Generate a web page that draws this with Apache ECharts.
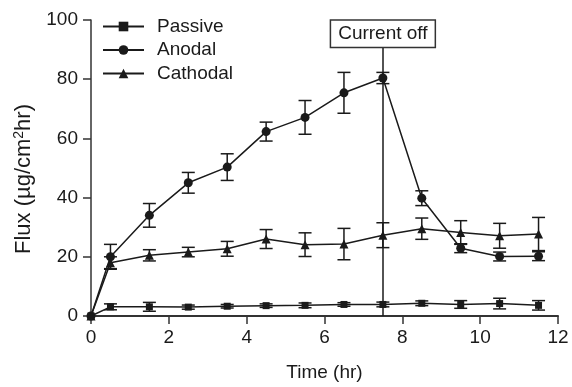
<!DOCTYPE html>
<html>
<head>
<meta charset="utf-8">
<script src="https://cdn.jsdelivr.net/npm/echarts@6/dist/echarts.min.js"></script>
<style>
  html, body { margin: 0; padding: 0; background: #fff; }
  #chart { width: 572px; height: 387px; }
</style>
</head>
<body>
<div id="chart"></div>
<script>
// Sampling times (hr)
const times = [0, 0.5, 1.5, 2.5, 3.5, 4.5, 5.5, 6.5, 7.5, 8.5, 9.5, 10.5, 11.5];

// Mean flux (µg/cm²hr) and standard deviations for each group
const passive     = [0, 3.1, 3.1, 3.0, 3.3, 3.5, 3.6, 3.9, 3.9, 4.3, 3.9, 4.2, 3.6];
const passiveErr  = [0, 1.0, 1.5, 0.7, 0.6, 0.6, 0.8, 0.6, 0.8, 0.8, 1.3, 1.8, 1.6];
const anodal      = [0, 20.0, 34.0, 45.0, 50.3, 62.3, 67.1, 75.4, 80.4, 39.8, 22.9, 20.1, 20.2];
const anodalErr   = [0, 4.2, 4.0, 3.5, 4.5, 3.2, 5.7, 6.9, 1.9, 2.5, 1.5, 1.5, 1.5];
const cathodal    = [0, 18.0, 20.5, 21.6, 22.7, 26.0, 24.1, 24.3, 27.3, 29.5, 28.2, 27.1, 27.7];
const cathodalErr = [0, 2.0, 1.9, 1.6, 2.5, 3.2, 4.0, 5.3, 4.2, 3.6, 4.0, 4.2, 5.6];

// Axis ticks
const xTicks = [0, 2, 4, 6, 8, 10, 12];
const yTicks = [0, 20, 40, 60, 80, 100];

// Time at which the current is switched off
const currentOffTime = 7.5;
const currentOffLabel = 'Current off';

const INK = '#1a1a1a';
const FONT = 'Liberation Sans, Arial, Helvetica, sans-serif';

function pairs(vals) {
  return times.map((t, i) => [t, vals[i]]);
}
function errData(vals, errs) {
  return times.map((t, i) => [t, vals[i] - errs[i], vals[i] + errs[i]]).filter((d, i) => errs[i] > 0);
}

// Draws a vertical error bar with caps at each point
function renderErr(params, api) {
  const x = api.value(0);
  const lo = api.coord([x, api.value(1)]);
  const hi = api.coord([x, api.value(2)]);
  const w = 6.5;
  const style = { stroke: INK, lineWidth: 1.5 };
  return {
    type: 'group',
    children: [
      { type: 'line', shape: { x1: lo[0], y1: lo[1], x2: hi[0], y2: hi[1] }, style },
      { type: 'line', shape: { x1: lo[0] - w, y1: lo[1], x2: lo[0] + w, y2: lo[1] }, style },
      { type: 'line', shape: { x1: hi[0] - w, y1: hi[1], x2: hi[0] + w, y2: hi[1] }, style }
    ]
  };
}

function lineSeries(name, vals, symbol, size) {
  return {
    name, type: 'line', data: pairs(vals),
    symbol, symbolSize: size, showAllSymbol: true,
    lineStyle: { color: INK, width: 1.5 },
    itemStyle: { color: INK },
    z: 5, animation: false
  };
}

function errSeries(vals, errs) {
  return {
    type: 'custom', data: errData(vals, errs),
    renderItem: renderErr, z: 3, silent: true, animation: false,
    encode: { x: 0, y: [1, 2] }
  };
}

const passiveLine = lineSeries('Passive', passive, 'rect', 7);
const anodalLine = lineSeries('Anodal', anodal, 'circle', 9);
const cathodalLine = lineSeries('Cathodal', cathodal, 'triangle', 9);

// Vertical marker for the moment the current stops
anodalLine.markLine = {
  silent: true,
  symbol: ['none', 'none'],
  animation: false,
  lineStyle: { color: INK, width: 1.5, type: 'solid' },
  label: {
    show: true, position: 'end', distance: 0,
    formatter: currentOffLabel,
    color: INK, fontFamily: FONT, fontSize: 19,
    backgroundColor: '#fff', borderColor: '#333', borderWidth: 1.5,
    padding: [4, 7, 3, 7]
  },
  data: [[{ coord: [currentOffTime, 0] }, { coord: [currentOffTime, 91] }]]
};

const chart = echarts.init(document.getElementById('chart'), null, { renderer: 'canvas' });
chart.setOption({
  backgroundColor: '#fff',
  animation: false,
  textStyle: { fontFamily: FONT },
  grid: { left: 91, right: 14, top: 20, bottom: 65 },
  legend: {
    data: ['Passive', 'Anodal', 'Cathodal'],
    orient: 'vertical', left: 102, top: 17, padding: 0,
    itemWidth: 41, itemHeight: 12, itemGap: 4.5,
    textStyle: { fontSize: 19, lineHeight: 19, color: INK, fontFamily: FONT, padding: [0, 0, 0, 8] }
  },
  xAxis: {
    type: 'value', min: 0, max: 12, interval: 2,
    name: 'Time (hr)', nameLocation: 'middle', nameGap: 47,
    nameTextStyle: { fontSize: 19, color: INK, fontFamily: FONT },
    axisLine: { lineStyle: { color: '#333', width: 2 } },
    axisTick: { length: 8, lineStyle: { color: '#333', width: 1.5 } },
    axisLabel: { fontSize: 19, color: INK, margin: 12, fontFamily: FONT,
      formatter: v => xTicks.includes(v) ? String(v) : '' },
    splitLine: { show: false }
  },
  yAxis: {
    type: 'value', min: 0, max: 100, interval: 20,
    name: '{a|Flux (µg/cm}{s|2}{a|hr)}', nameLocation: 'middle', nameGap: 47, nameRotate: 90,
    nameTextStyle: {
      color: INK, fontFamily: FONT, padding: [0, 22, 0, 0],
      rich: {
        a: { fontSize: 22, color: INK, fontFamily: FONT, lineHeight: 25 },
        s: { fontSize: 14, color: INK, fontFamily: FONT, verticalAlign: 'top', lineHeight: 25 }
      }
    },
    axisLine: { show: true, lineStyle: { color: '#333', width: 1.5 } },
    axisTick: { show: true, length: 8, lineStyle: { color: '#333', width: 1.5 } },
    axisLabel: { fontSize: 19, color: INK, margin: 13, fontFamily: FONT,
      formatter: v => yTicks.includes(v) ? String(v) : '' },
    splitLine: { show: false }
  },
  series: [
    errSeries(passive, passiveErr),
    errSeries(anodal, anodalErr),
    errSeries(cathodal, cathodalErr),
    passiveLine, anodalLine, cathodalLine
  ]
});
</script>
</body>
</html>
